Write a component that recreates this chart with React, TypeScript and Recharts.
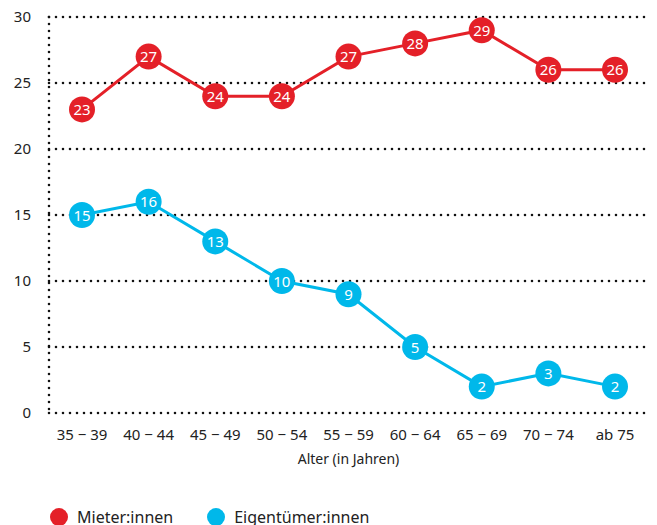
import { CartesianGrid, LabelList, Line, LineChart, XAxis, YAxis } from "recharts";

const ageGroups = ["35 \u2212 39", "40 \u2212 44", "45 \u2212 49", "50 \u2212 54", "55 \u2212 59", "60 \u2212 64", "65 \u2212 69", "70 \u2212 74", "ab 75"];
const mieter = [23, 27, 24, 24, 27, 28, 29, 26, 26];
const eigentuemer = [15, 16, 13, 10, 9, 5, 2, 3, 2];
const yTicks = [0, 5, 10, 15, 20, 25, 30];

const RED = "#e42028";
const BLUE = "#00b8ea";
const FONT = "'Noto Sans', sans-serif";

const data = ageGroups.map((age, i) => ({ age, mieter: mieter[i], eigentuemer: eigentuemer[i] }));

function makeDot(color: string) {
  return (props: { cx?: number; cy?: number; index?: number }) => {
    const { cx, cy, index } = props;
    if (cx == null || cy == null) return null;
    return <circle key={`d-${color}-${index}`} cx={cx} cy={cy} r={13} fill={color} />;
  };
}

function ValueLabel(props: { x?: number; y?: number; value?: number }) {
  const { x, y, value } = props;
  if (x == null || y == null) return null;
  return (
    <text x={x} y={y} dy={5.5} textAnchor="middle" fill="#fff" fontSize={15} fontFamily={FONT}>
      {value}
    </text>
  );
}

const legendItems = [
  { name: "Mieter:innen", color: RED },
  { name: "Eigentümer:innen", color: BLUE },
];

export default function App() {
  return (
    <div style={{ position: "absolute", left: 0, top: 0, width: 657, height: 525, background: "#fff", fontFamily: FONT, overflow: "hidden" }}>
      <LineChart width={657} height={525} data={data} margin={{ top: 17, right: 9, left: 0, bottom: 52 }}>
        <CartesianGrid
          vertical={false}
          stroke="#111"
          strokeWidth={2.6}
          strokeDasharray="0 7"
          strokeLinecap="round"
        />
        <XAxis
          dataKey="age"
          tickLine={false}
          axisLine={false}
          height={60}
          padding={{ left: 33, right: 33 }}
          tick={{ fill: "#222", fontSize: 15, fontFamily: FONT }}
          tickMargin={10}
          label={{ value: "Alter (in Jahren)", position: "insideBottom", offset: 9, fill: "#222", fontSize: 14, fontFamily: FONT }}
        />
        <YAxis
          domain={[0, 30]}
          ticks={yTicks}
          width={49}
          tickLine={false}
          axisLine={{ stroke: "#111", strokeWidth: 2.6, strokeDasharray: "0 7", strokeLinecap: "round" }}
          tick={{ fill: "#222", fontSize: 15, fontFamily: FONT }}
          tickMargin={12}
        />
        <Line dataKey="mieter" stroke={RED} strokeWidth={3} dot={makeDot(RED)} activeDot={false} isAnimationActive={false}>
          <LabelList dataKey="mieter" content={ValueLabel} />
        </Line>
        <Line dataKey="eigentuemer" stroke={BLUE} strokeWidth={3} dot={makeDot(BLUE)} activeDot={false} isAnimationActive={false}>
          <LabelList dataKey="eigentuemer" content={ValueLabel} />
        </Line>
      </LineChart>
      <div style={{ position: "absolute", left: 50, top: 506, display: "flex", gap: 34, fontSize: 16, lineHeight: "22px", color: "#222" }}>
        {legendItems.map((item) => (
          <div key={item.name} style={{ display: "flex", alignItems: "center", gap: 9 }}>
            <span style={{ width: 18, height: 18, borderRadius: "50%", background: item.color, display: "inline-block" }} />
            <span>{item.name}</span>
          </div>
        ))}
      </div>
    </div>
  );
}
